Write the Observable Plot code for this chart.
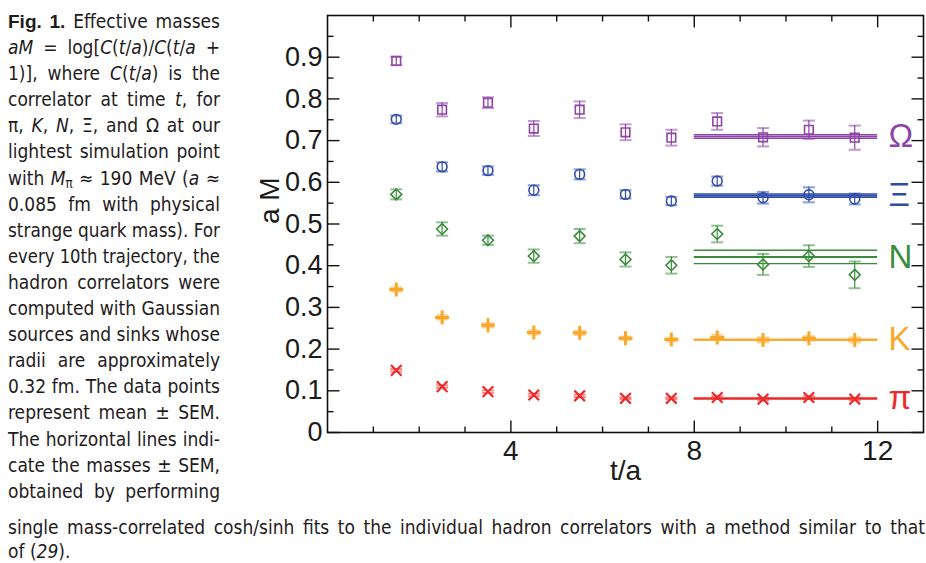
<!DOCTYPE html>
<html>
<head>
<meta charset="utf-8">
<script src="https://cdn.jsdelivr.net/npm/d3@7"></script>
<script src="https://cdn.jsdelivr.net/npm/@observablehq/plot@0.6"></script>
<style>
  html, body { margin: 0; padding: 0; background: #fff; }
  #page { position: relative; width: 926px; height: 563px; overflow: hidden; }
  .cap { position: absolute; font-family: "Liberation Sans Narrow", "DejaVu Sans Condensed", "Liberation Sans", Arial, sans-serif; font-size: 19px; color: #1f1b1c; }
  .cap .ln { white-space: nowrap; }
  .cap .ln span.in { display: inline-block; transform-origin: 0 50%; }
  .cap b { font-family: "Liberation Sans", Arial, sans-serif; font-weight: bold; }
  .cap sub { font-size: 0.7em; vertical-align: -0.25em; line-height: 0; }
  #left { left: 8px; top: 8px; width: 212px; }
  #left .ln { height: 26.1px; line-height: 26.1px; }
  #bottom { left: 8px; top: 515px; width: 917px; }
  #bottom .ln { height: 24px; line-height: 24px; }
  #chart { position: absolute; left: 240px; top: 0px; }
</style>
</head>
<body>
<div id="page">
  <div id="left" class="cap"></div>
  <div id="bottom" class="cap"></div>
  <div id="chart"></div>
</div>
<script>
// ---------- data ----------
const tValues = [1.5, 2.5, 3.5, 4.5, 5.5, 6.5, 7.5, 8.5, 9.5, 10.5, 11.5];

const hadrons = ["Ω", "Ξ", "N", "K", "π"];
const hadronColors = ["#8e44a8", "#2e4ca8", "#3a8c3a", "#f9a82a", "#ec2a2a"];

const omegaM   = [0.891, 0.774, 0.791, 0.729, 0.774, 0.720, 0.707, 0.746, 0.708, 0.726, 0.707];
const omegaErr = [0.010, 0.016, 0.013, 0.018, 0.020, 0.019, 0.019, 0.020, 0.022, 0.022, 0.029];
const xiM      = [0.751, 0.637, 0.628, 0.581, 0.619, 0.571, 0.555, 0.603, 0.563, 0.570, 0.560];
const xiErr    = [0.009, 0.011, 0.010, 0.012, 0.012, 0.010, 0.010, 0.011, 0.014, 0.018, 0.013];
const nucM     = [0.571, 0.488, 0.461, 0.423, 0.471, 0.415, 0.401, 0.476, 0.403, 0.423, 0.378];
const nucErr   = [0.012, 0.016, 0.011, 0.016, 0.017, 0.017, 0.020, 0.020, 0.025, 0.026, 0.032];
const kaonM    = [0.343, 0.276, 0.257, 0.240, 0.239, 0.226, 0.223, 0.228, 0.222, 0.226, 0.222];
const kaonErr  = [0.005, 0.005, 0.005, 0.005, 0.005, 0.004, 0.004, 0.006, 0.006, 0.005, 0.006];
const pionM    = [0.149, 0.110, 0.098, 0.090, 0.088, 0.082, 0.082, 0.084, 0.080, 0.084, 0.080];
const pionErr  = [0.003, 0.003, 0.003, 0.003, 0.003, 0.002, 0.002, 0.003, 0.003, 0.003, 0.003];

const fitMass = [0.710, 0.568, 0.421, 0.2225, 0.0815];
const fitErr  = [0.0045, 0.004, 0.016, 0.001, 0.001];
const fitRange = [8, 12];

const yMajorTicks = [0, 0.1, 0.2, 0.3, 0.4, 0.5, 0.6, 0.7, 0.8, 0.9];
const yMinorTicks = [0.05, 0.15, 0.25, 0.35, 0.45, 0.55, 0.65, 0.75, 0.85, 0.95];
const xMajorTicks = [4, 8, 12];
const xMinorTicks = [1, 2, 3, 5, 6, 7, 9, 10, 11];
const yTickLabels = ["0", "0.1", "0.2", "0.3", "0.4", "0.5", "0.6", "0.7", "0.8", "0.9"];
const xTickLabels = ["4", "8", "12"];
const xLabel = "t/a";
const yLabel = "a M";

const captionLeft = [
  '<b>Fig. 1.</b> Effective masses',
  '<i>aM</i> = log[<i>C</i>(<i>t</i>/<i>a</i>)/<i>C</i>(<i>t</i>/<i>a</i> +',
  '1)], where <i>C</i>(<i>t</i>/<i>a</i>) is the',
  'correlator at time <i>t</i>, for',
  'π, <i>K</i>, <i>N</i>, Ξ, and Ω at our',
  'lightest simulation point',
  'with <i>M</i><sub>π</sub> ≈ 190 MeV (<i>a</i> ≈',
  '0.085 fm with physical',
  'strange quark mass). For',
  'every 10th trajectory, the',
  'hadron correlators were',
  'computed with Gaussian',
  'sources and sinks whose',
  'radii are approximately',
  '0.32 fm. The data points',
  'represent mean ± SEM.',
  'The horizontal lines indi-',
  'cate the masses ± SEM,',
  'obtained by performing'
];
const captionBottom = [
  'single mass-correlated cosh/sinh fits to the individual hadron correlators with a method similar to that',
  'of (<i>29</i>).'
];

// ---------- caption ----------
function layoutLines(container, lines, width, justifyAll) {
  lines.forEach((html, i) => {
    const ln = document.createElement("div");
    ln.className = "ln";
    const sp = document.createElement("span");
    sp.className = "in";
    sp.innerHTML = html;
    ln.appendChild(sp);
    container.appendChild(ln);
    const w = sp.getBoundingClientRect().width;
    const justify = justifyAll || i < lines.length - 1;
    const nSpaces = (sp.textContent.match(/ /g) || []).length;
    if (w > width) {
      sp.style.transform = `scaleX(${width / w})`;
    } else if (justify && nSpaces > 0) {
      sp.style.wordSpacing = ((width - w) / nSpaces) + "px";
    }
  });
}
layoutLines(document.getElementById("left"), captionLeft, 212, true);
layoutLines(document.getElementById("bottom"), captionBottom, 917, false);

// ---------- chart ----------
const seriesM = [omegaM, xiM, nucM, kaonM, pionM];
const seriesE = [omegaErr, xiErr, nucErr, kaonErr, pionErr];
const seriesSymbol = ["square2", "circle", "diamond2", "plus", "times"];
const seriesR = [5.5, 4.9, 4.9, 4.6, 4.9];
const seriesSW = [1.6, 1.6, 1.6, 3, 2.2];

const points = hadrons.flatMap((h, k) =>
  tValues.map((t, i) => ({hadron: h, t, m: seriesM[k][i], e: seriesE[k][i]})));
const caps = points.flatMap(d => [{...d, y: d.m - d.e}, {...d, y: d.m + d.e}]);
const fits = hadrons.map((h, k) => ({hadron: h, m: fitMass[k], e: fitErr[k], start: fitRange[0], end: fitRange[1]}));
const yTicks = yMajorTicks.map((v, i) => ({v, label: yTickLabels[i]}));
const xTicks = xMajorTicks.map((v, i) => ({v, label: xTickLabels[i]}));

// line-segment symbols (length = r)
const lineSymbol = (dx, dy, centered) => ({
  draw(context, size) {
    const L = Math.sqrt(size / Math.PI);
    if (centered) { context.moveTo(-L * dx, -L * dy); } else { context.moveTo(0, 0); }
    context.lineTo(L * dx, L * dy);
  }
});
const capSymbol = lineSymbol(1, 0, true);
const tickUp = lineSymbol(0, -1, false);
const tickDown = lineSymbol(0, 1, false);
const tickRight = lineSymbol(1, 0, false);
const tickLeft = lineSymbol(-1, 0, false);

const tickStyle = {fill: "none", stroke: "#111", strokeWidth: 1.4};
const axisFont = 27;

const plot = Plot.plot({
  width: 686,
  height: 512,
  marginLeft: 87,
  marginRight: 3,
  marginTop: 15,
  marginBottom: 80,
  style: {background: "transparent", fontFamily: "'Liberation Sans', Arial, Helvetica, sans-serif", color: "#1a1a1a", overflow: "visible"},
  x: {domain: [0, 13], axis: null},
  y: {domain: [0, 1.0], axis: null},
  color: {domain: hadrons, range: hadronColors},
  marks: [
    // fit bands
    Plot.ruleY(fits, {y: "m", x1: "start", x2: "end", stroke: "hadron", strokeWidth: 2}),
    Plot.ruleY(fits, {y: d => d.m + d.e, x1: "start", x2: "end", stroke: "hadron", strokeWidth: 1.3}),
    Plot.ruleY(fits, {y: d => d.m - d.e, x1: "start", x2: "end", stroke: "hadron", strokeWidth: 1.3}),
    // error bars
    Plot.ruleX(points, {x: "t", y1: d => d.m - d.e, y2: d => d.m + d.e, stroke: "hadron", strokeWidth: 1.2}),
    Plot.dot(caps, {x: "t", y: "y", symbol: capSymbol, r: 6, fill: "none", stroke: "hadron", strokeOpacity: 0.55, strokeWidth: 2}),
    // markers
    ...hadrons.map((h, k) => Plot.dot(points.filter(d => d.hadron === h), {
      x: "t", y: "m", symbol: seriesSymbol[k], r: seriesR[k], stroke: "hadron", fill: "none", strokeWidth: seriesSW[k]
    })),
    // fit labels
    Plot.text(fits, {y: "m", text: "hadron", frameAnchor: "right", dx: -35, textAnchor: "start", lineAnchor: "middle", fill: "hadron", fontSize: 33}),
    // frame & inward ticks on all four sides
    Plot.frame({stroke: "#111", strokeWidth: 1.6}),
    Plot.dot(yMajorTicks, {y: d => d, frameAnchor: "left", symbol: tickRight, r: 12, ...tickStyle}),
    Plot.dot(yMinorTicks, {y: d => d, frameAnchor: "left", symbol: tickRight, r: 6, ...tickStyle}),
    Plot.dot(yMajorTicks, {y: d => d, frameAnchor: "right", symbol: tickLeft, r: 12, ...tickStyle}),
    Plot.dot(yMinorTicks, {y: d => d, frameAnchor: "right", symbol: tickLeft, r: 6, ...tickStyle}),
    Plot.dot(xMajorTicks, {x: d => d, frameAnchor: "bottom", symbol: tickUp, r: 12, ...tickStyle}),
    Plot.dot(xMinorTicks, {x: d => d, frameAnchor: "bottom", symbol: tickUp, r: 6, ...tickStyle}),
    Plot.dot(xMajorTicks, {x: d => d, frameAnchor: "top", symbol: tickDown, r: 12, ...tickStyle}),
    Plot.dot(xMinorTicks, {x: d => d, frameAnchor: "top", symbol: tickDown, r: 6, ...tickStyle}),
    // tick labels
    Plot.text(yTicks, {y: "v", text: "label", frameAnchor: "left", dx: -5, textAnchor: "end", lineAnchor: "middle", fontSize: axisFont, fill: "#1a1a1a"}),
    Plot.text(xTicks, {x: "v", text: "label", frameAnchor: "bottom", dy: 8, lineAnchor: "top", fontSize: axisFont + 1, fill: "#1a1a1a"}),
    // axis titles
    Plot.text([yLabel], {frameAnchor: "left", text: d => d, rotate: -90, dx: -57, fontSize: 28, fill: "#1a1a1a"}),
    Plot.text([xLabel], {frameAnchor: "bottom", text: d => d, dy: 47, fontSize: 28, fill: "#1a1a1a"})
  ]
});
document.getElementById("chart").appendChild(plot);
</script>
</body>
</html>
